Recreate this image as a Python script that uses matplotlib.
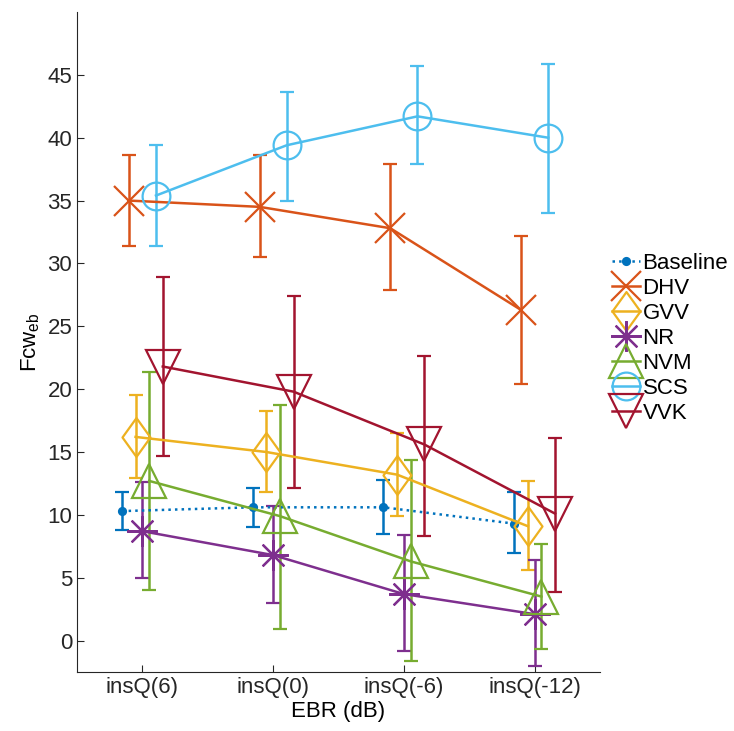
import numpy as np
import matplotlib.pyplot as plt
from matplotlib.lines import Line2D
from matplotlib.path import Path

plt.rcParams['font.family'] = ['Liberation Sans', 'DejaVu Sans']

etiquetas = ['insQ(6)', 'insQ(0)', 'insQ(-6)', 'insQ(-12)']
series = ['Baseline', 'DHV', 'GVV', 'NR', 'NVM', 'SCS', 'VVK']

# medias y limites de las barras de error
baseline = [10.3, 10.6, 10.6, 9.3]
baseline_sup = [11.8, 12.1, 12.8, 11.8]
baseline_inf = [8.8, 9.0, 8.5, 7.0]

dhv = [35.0, 34.5, 32.8, 26.3]
dhv_sup = [38.6, 38.6, 37.9, 32.2]
dhv_inf = [31.4, 30.5, 27.9, 20.4]

gvv = [16.2, 15.0, 13.2, 9.1]
gvv_sup = [19.5, 18.3, 16.5, 12.7]
gvv_inf = [12.9, 11.8, 9.9, 5.6]

nr = [8.7, 6.8, 3.7, 2.1]
nr_sup = [12.6, 10.7, 8.4, 6.4]
nr_inf = [5.0, 3.0, -0.8, -2.0]

nvm = [12.7, 9.9, 6.3, 3.5]
nvm_sup = [21.4, 18.7, 14.4, 7.7]
nvm_inf = [4.0, 0.9, -1.6, -0.7]

scs = [35.4, 39.4, 41.7, 40.0]
scs_sup = [39.4, 43.6, 45.7, 45.9]
scs_inf = [31.4, 35.0, 37.9, 34.0]

vvk = [21.8, 19.8, 15.6, 10.1]
vvk_sup = [28.9, 27.4, 22.6, 16.1]
vvk_inf = [14.7, 12.1, 8.3, 3.9]

medias = [baseline, dhv, gvv, nr, nvm, scs, vvk]
superiores = [baseline_sup, dhv_sup, gvv_sup, nr_sup, nvm_sup, scs_sup, vvk_sup]
inferiores = [baseline_inf, dhv_inf, gvv_inf, nr_inf, nvm_inf, scs_inf, vvk_inf]

# rombo un poco mas ancho que el 'd' de matplotlib (como el de MATLAB)
rombo = Path([(0, 1), (0.72, 0), (0, -1), (-0.72, 0), (0, 1)],
             [Path.MOVETO, Path.LINETO, Path.LINETO, Path.LINETO, Path.CLOSEPOLY])

colores = ['#0072BD', '#D95319', '#EDB120', '#7E2F8E', '#77AC30', '#4DBEEE', '#A2142F']
marcadores = ['.', 'x', rombo, (8, 2, 0), '^', 'o', 'v']
tamanos = [10, 22, 28, 22, 25, 20, 25]
estilos = [':', '-', '-', '-', '-', '-', '-']

fig = plt.figure(figsize=(7.34, 7.31), dpi=100)
ax = fig.add_axes([77 / 734, 59 / 731, 523 / 734, 660 / 731])

x = np.arange(1, 5)
manijas = []
for i in range(len(series)):
    desp = (i - 3) * 0.052
    m = np.array(medias[i])
    err = [m - np.array(inferiores[i]), np.array(superiores[i]) - m]
    relleno = colores[i] if i == 0 else 'none'
    ax.errorbar(x + desp, m, yerr=err, color=colores[i], marker=marcadores[i],
                markersize=tamanos[i], markerfacecolor=relleno,
                markeredgewidth=1.6, linestyle=estilos[i], linewidth=1.8,
                elinewidth=1.8, capsize=5, capthick=1.8)
    manijas.append(Line2D([], [], color=colores[i], marker=marcadores[i],
                          markersize=tamanos[i], markerfacecolor=relleno,
                          markeredgewidth=1.6, linestyle=estilos[i],
                          linewidth=1.8, label=series[i]))

ax.set_xlim(0.5, 4.5)
ax.set_ylim(-2.5, 50)
ax.set_xticks(x)
ax.set_xticklabels(etiquetas)
ax.set_yticks(np.arange(0, 50, 5))
ax.tick_params(direction='in', labelsize=16, colors='#262626', length=5)
for lado in ['top', 'right']:
    ax.spines[lado].set_visible(False)
for lado in ['left', 'bottom']:
    ax.spines[lado].set_color('#262626')
ax.set_xlabel('EBR (dB)', fontsize=16, labelpad=2)
ax.set_ylabel('Fcw$_{\\mathregular{eb}}$', fontsize=16, labelpad=4)

leg = ax.legend(handles=manijas, loc='center left', bbox_to_anchor=(1.022, 0.505),
                frameon=False, fontsize=16, handlelength=1.3, handletextpad=0.1,
                labelspacing=0.18, borderpad=0, borderaxespad=0)

fig.savefig('out.png', dpi=100)
